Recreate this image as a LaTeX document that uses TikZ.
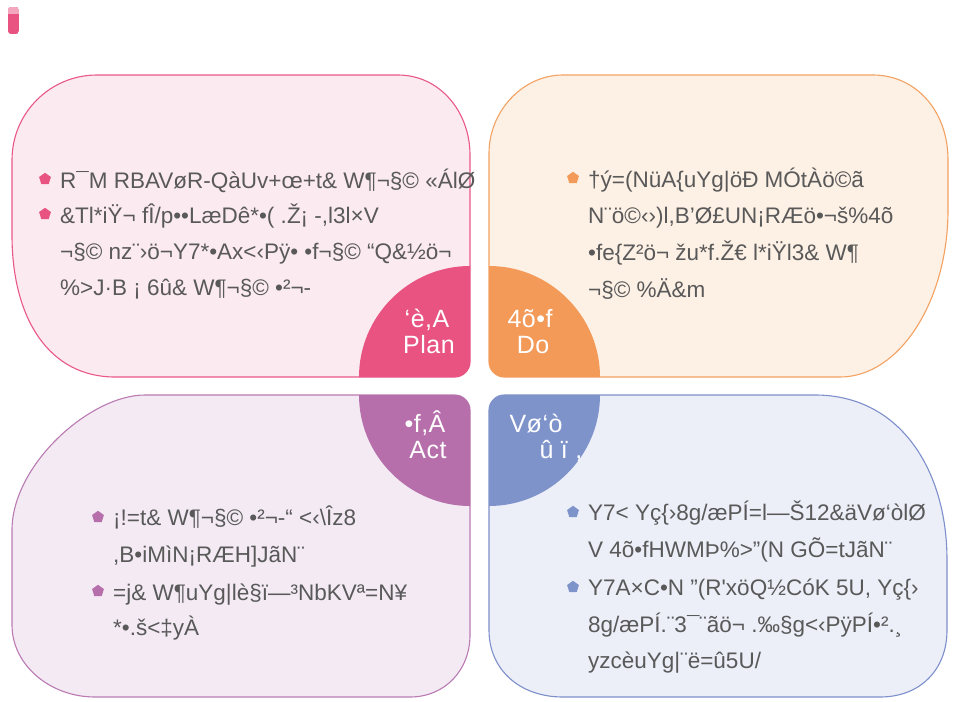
\documentclass[tikz,border=0pt]{standalone}
\usepackage{fontspec}
\newfontfamily\txtfont{Liberation Sans}[Ligatures=TeXOff]
\newfontfamily\labfont{Liberation Sans}[Ligatures=TeXOff,LetterSpace=2]
\usetikzlibrary{shapes.geometric}
\definecolor{txtgray}{HTML}{595959}
\definecolor{pinkD}{HTML}{E85382}
\definecolor{pinkL}{HTML}{F5A6BF}
\definecolor{pinkB}{HTML}{E9588A}
\definecolor{pinkF}{HTML}{FBEAEF}
\definecolor{oranD}{HTML}{F39A59}
\definecolor{oranB}{HTML}{F4A262}
\definecolor{oranF}{HTML}{FDF0E5}
\definecolor{purpD}{HTML}{B66FAB}
\definecolor{purpB}{HTML}{BA7AB2}
\definecolor{purpF}{HTML}{F3EAF4}
\definecolor{blueD}{HTML}{7F93CB}
\definecolor{blueB}{HTML}{7E90CB}
\definecolor{blueF}{HTML}{ECEEF8}
\begin{document}
\begin{tikzpicture}[x=1pt,y=-1pt,
  ln/.style={anchor=base west, inner sep=0pt, text=txtgray, font=\txtfont\fontsize{22.5}{27}\selectfont},
  lab/.style={anchor=base, inner sep=0pt, text=white, font=\labfont\fontsize{25}{29}\selectfont},
  bul/.style={regular polygon, regular polygon sides=5, minimum size=12.5pt, inner sep=0pt, draw=none},
  panel/.style={line width=1.1pt}]
\useasboundingbox (0,0) rectangle (955,701);
\fill[white] (0,0) rectangle (955,701);

% corner marker
\begin{scope}
\clip[rounded corners=3pt] (8,7) rectangle (19,34);
\fill[pinkD] (8,7) rectangle (19,34);
\fill[pinkL] (8,7) rectangle (19,14);
\end{scope}

% panels
\draw[panel, draw=pinkB, fill=pinkF] (97,75) -- (398,75) .. controls (440,75) and (470,112) .. (470,155) -- (470,362) .. controls (470,370) and (463,377) .. (455,377) -- (115,377) .. controls (50,377) and (12,320) .. (12,235) -- (12,160) .. controls (12,113) and (50,75) .. (97,75) -- cycle;
\draw[panel, draw=oranB, fill=oranF] (563,75) -- (873,75) .. controls (915,75) and (948,110) .. (948,160) -- (948,210) .. controls (948,300) and (900,377) .. (840,377) -- (504,377) .. controls (496,377) and (489,370) .. (489,362) -- (489,153) .. controls (489,112) and (522,75) .. (563,75) -- cycle;
\draw[panel, draw=purpB, fill=purpF] (145,395) -- (455,395) .. controls (463,395) and (470,402) .. (470,410) -- (470,635) .. controls (470,670) and (445,697) .. (410,697) -- (95,697) .. controls (50,697) and (12,665) .. (12,625) -- (12,530) .. controls (12,465) and (90,395) .. (145,395) -- cycle;
\draw[panel, draw=blueB, fill=blueF] (504,395) -- (815,395) .. controls (900,395) and (947,470) .. (947,560) -- (947,630) .. controls (947,670) and (920,697) .. (880,697) -- (563,697) .. controls (520,697) and (489,670) .. (489,630) -- (489,410) .. controls (489,402) and (496,395) .. (504,395) -- cycle;

% quarter circles
\fill[pinkD] (470,266) -- (470,362) .. controls (470,370) and (463,377) .. (455,377) -- (359,377) .. controls (359,316) and (409,266) .. (470,266) -- cycle;
\fill[oranD] (489,266) .. controls (550,266) and (600,316) .. (600,377) -- (504,377) .. controls (496,377) and (489,370) .. (489,362) -- cycle;
\fill[purpD] (470,506) -- (470,410) .. controls (470,402) and (463,395) .. (455,395) -- (359,395) .. controls (359,456) and (409,506) .. (470,506) -- cycle;
\fill[blueD] (489,506) -- (489,410) .. controls (489,402) and (496,395) .. (504,395) -- (600,395) .. controls (600,456) and (550,506) .. (489,506) -- cycle;

% quarter labels
\node[lab] (planA) at (427,327) {‘è,A};
\node[lab] (planB) at (429,353) {Plan};
\node[lab] (doA) at (530,327) {4õ•f};
\node[lab] (doB) at (533,353) {Do};
\node[lab] (actA) at (425,432) {•f,Â};
\node[lab] (actB) at (428,458) {Act};
\node[lab] (chkA) at (536,432) {Vø‘ò};
\node[lab] (chkB) at (561,458) {û ï ,};

% top-left text
\node[bul, fill=pinkD] (tlb1) at (45,179) {};
\node[bul, fill=pinkD] (tlb2) at (45,214) {};
\node[ln] (tl1) at (60,188) {R¯M RBAVøR-QàUv+œ+t\& W¶¬§© «ÁlØ};
\node[ln] (tl2) at (60,223) {\&Tl*iŸ¬ fÎ/p••LæDê*•( .Ž¡ -,l3l×V};
\node[ln] (tl3) at (60,259) {¬§© nz¨›ö¬Y7*•Ax<‹Pÿ• •f¬§© “Q\&½ö¬};
\node[ln] (tl4) at (60,295) {\%>J·B ¡ 6û\& W¶¬§© •²¬-};

% top-right text
\node[bul, fill=oranD] (trb1) at (573,178) {};
\node[ln] (tr1) at (588,187) {†ý=(NüA\{uYg|öÐ MÓtÀö©ã};
\node[ln] (tr2) at (588,223) {N¨ö©‹›)l,B’Ø£UN¡RÆö•¬š\%4õ};
\node[ln] (tr3) at (588,260) {•fe\{Z²ö¬ žu*f.Ž€ l*iŸl3\& W¶};
\node[ln] (tr4) at (588,297) {¬§© \%Ä\&m};

% bottom-left text
\node[bul, fill=purpD] (blb1) at (98,517) {};
\node[bul, fill=purpD] (blb2) at (98,591) {};
\node[ln] (bl1) at (113,525) {¡!=t\& W¶¬§© •²¬-“ <‹\textbackslash Îz8};
\node[ln] (bl2) at (113,562) {,B•iMìN¡RÆH]JãN¨};
\node[ln] (bl3) at (113,600) {=j\& W¶uYg|lè§ï—³NbKVª=N¥};
\node[ln] (bl4) at (113,635) {*•.š<‡yÀ};

% bottom-right text
\node[bul, fill=blueD] (brb1) at (573,512) {};
\node[bul, fill=blueD] (brb2) at (573,587) {};
\node[ln] (br1) at (588,520) {Y7< Yç\{›8g/æPÍ=l—Š12\&äVø‘òlØ};
\node[ln] (br2) at (588,557) {V 4õ•fHWMÞ\%>”(N GÕ=tJãN¨};
\node[ln] (br3) at (588,595) {Y7A×C•N ”(R'xöQ½CóK 5U, Yç\{›};
\node[ln] (br4) at (588,632) {8g/æPÍ.¨3¯¨ãö¬ .‰§g<‹PÿPÍ•².¸};
\node[ln] (br5) at (588,668) {yzcèuYg|¨ë=û5U/};
\end{tikzpicture}
\end{document}
